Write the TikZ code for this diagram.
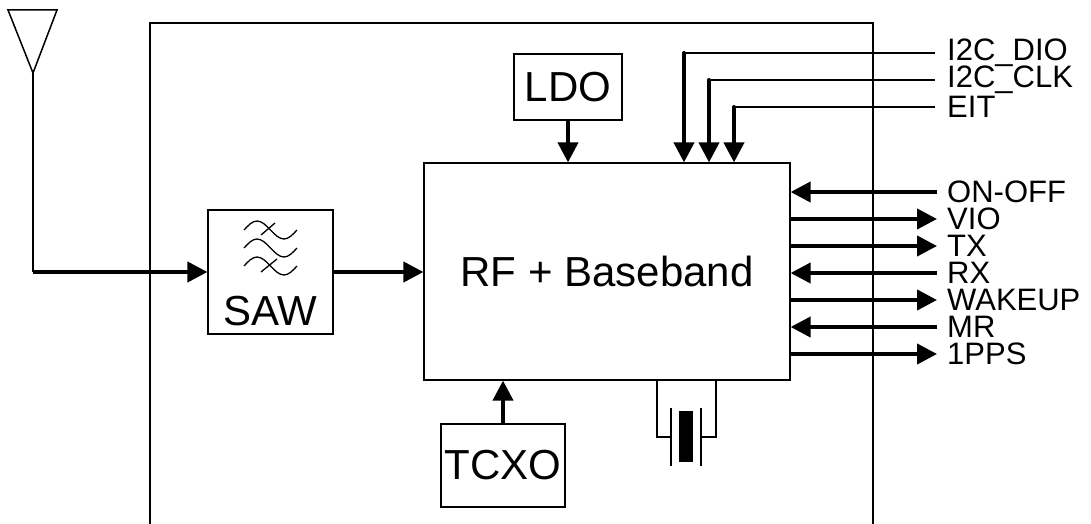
\documentclass[tikz,border=0pt]{standalone}
\usepackage{fontspec}
\setmainfont{Liberation Sans}
\usetikzlibrary{arrows.meta,positioning}

\begin{document}
\begin{tikzpicture}[x=1pt,y=-1pt]
\tikzstyle{blk}=[rectangle,draw,line width=1.2pt,inner sep=0pt,font=\fontsize{42}{42}\selectfont]
\tikzstyle{pin}=[inner sep=0pt,anchor=west,font=\fontsize{31}{31}\selectfont]
\tikzstyle{sig}=[line width=4pt,-{Triangle[length=20pt,width=20pt]}]
\tikzstyle{sigin}=[line width=4pt,{Triangle[length=20pt,width=20pt]}-]
\tikzstyle{wire}=[line width=1.5pt]

\useasboundingbox (0,0) rectangle (1091,524);
\clip (0,0) rectangle (1091,524);

%module outline.
\draw[wire] (150,530) -- (150,23) -- (873,23) -- (873,530);

%antenna.
\coordinate (ant) at (33,73);
\coordinate (antIn) at (33,272);
\draw[wire] (ant) -- (8,10) -- (57,10) -- cycle;
\draw[wire] (ant) -- (antIn);

\node[blk,minimum width=125,minimum height=124] (saw) at (270.5,272) {};
\node[font=\fontsize{42}{42}\selectfont,inner sep=0pt] (sawText) at (270.5,311) {SAW};
\foreach \y in {230,248,266}
  \draw[line width=1.3pt] (244,\y) sin (257,\y-9) cos (270.5,\y) sin (284,\y+9) cos (297,\y);
\draw[line width=1.3pt] (261,235) -- (275,223);
\draw[line width=1.3pt] (261,272) -- (277,259);

\node[blk,minimum width=366,minimum height=217] (rf) at (607,271.5) {RF + Baseband};
\node[blk,minimum width=108,minimum height=66] (ldo) at (568,87) {LDO};
\node[blk,minimum width=124,minimum height=83] (tcxo) at (503,465.5) {TCXO};

\draw[sig] (antIn) -- (saw.west |- antIn);
\draw[sig] (saw.east |- antIn) -- (rf.west |- antIn);
\draw[sig] (ldo) -- (ldo |- rf.north);
\draw[sig] (tcxo) -- (tcxo |- rf.south);

%crystal.
\coordinate (xtalL) at (657,381);
\coordinate (xtalR) at (716,381);
\draw[wire] (xtalL) -- (657,437) -- (671,437);
\draw[wire] (xtalR) -- (716,437) -- (701,437);
\draw[wire] (671,408) -- (671,466);
\draw[wire] (701,408) -- (701,466);
\fill (679,411) rectangle (693,462);

%top pins.
\node[pin] (dio) at (947,53) {I2C\_DIO};
\node[pin] (clk) at (947,80) {I2C\_CLK};
\node[pin] (eit) at (947,107) {EIT};
\coordinate (dioT) at (684,53);
\coordinate (clkT) at (709,80);
\coordinate (eitT) at (734,107);
\foreach \p in {dio,clk,eit}{
  \draw[wire,shorten <=12pt] (\p.west) -- (\p T);
  \draw[sig,line cap=round] (\p T) -- (\p T |- rf.north);
}

%right pins.
\node[pin] (onoff)  at (947,192) {ON-OFF};
\node[pin] (vio)    at (947,219) {VIO};
\node[pin] (tx)     at (947,246) {TX};
\node[pin] (rx)     at (947,273) {RX};
\node[pin] (wakeup) at (947,300) {WAKEUP};
\node[pin] (mr)     at (947,327) {MR};
\node[pin] (pps)    at (947,354) {1PPS};
\foreach \p in {onoff,rx,mr}
  \draw[sigin,shorten >=10pt] (rf.east |- \p.west) -- (\p.west);
\foreach \p in {vio,tx,wakeup,pps}
  \draw[sig,shorten >=10pt] (rf.east |- \p.west) -- (\p.west);

\end{tikzpicture}
\end{document}
